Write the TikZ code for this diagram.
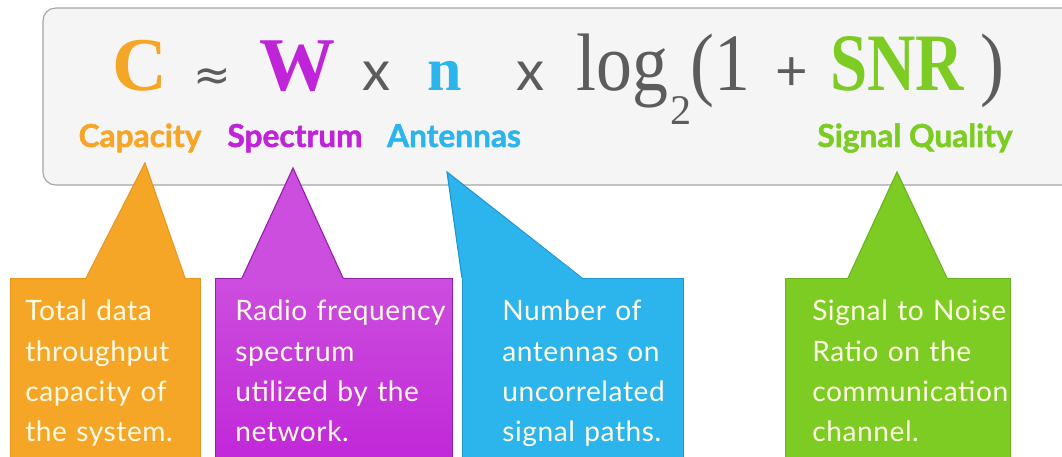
\documentclass[tikz,border=0pt]{standalone}
\usepackage{fontspec}
\setmainfont{Lato}
\newfontfamily\eqfont{Liberation Serif}
\newfontfamily\symfont{DejaVu Sans}
\newfontfamily\tagfont[FakeBold=1.6]{Lato Bold}
\newfontfamily\notefont[LetterSpace=2.0]{Lato}
\usetikzlibrary{positioning,calc}
\definecolor{capOrange}{RGB}{245,166,38}
\definecolor{capEdge}{RGB}{232,150,30}
\definecolor{specPurple}{RGB}{192,36,216}
\definecolor{specTop}{RGB}{204,78,222}
\definecolor{specEdge}{RGB}{150,30,170}
\definecolor{antBlue}{RGB}{44,180,236}
\definecolor{antEdge}{RGB}{30,150,210}
\definecolor{sigGreen}{RGB}{124,204,36}
\definecolor{sigEdge}{RGB}{105,180,30}
\definecolor{eqGray}{RGB}{92,92,92}
\definecolor{panelFill}{RGB}{245,245,245}
\definecolor{panelEdge}{RGB}{165,165,165}
\definecolor{noteText}{RGB}{255,250,228}
\newcommand{\narrow}[2]{\scalebox{#1}[1]{#2}}

\begin{document}
\begin{tikzpicture}[x=0.025cm, y=-0.025cm,
    eqbig/.style={font=\eqfont\fontsize{54}{54}\selectfont, text=eqGray, inner sep=0pt, anchor=base},
    eqlog/.style={font=\eqfont\fontsize{58}{58}\selectfont, text=eqGray, inner sep=0pt, anchor=base west},
    eqsub/.style={font=\eqfont\fontsize{30}{30}\selectfont, text=eqGray, inner sep=0pt, anchor=base west},
    eqop/.style={font=\fontsize{40}{40}\selectfont, text=eqGray, inner sep=0pt, anchor=base},
    tag/.style={font=\tagfont\fontsize{22.5}{24}\selectfont, inner sep=0pt, anchor=base},
    notebox/.style={anchor=north west, minimum height=4.925cm, inner sep=0pt, line width=0.8pt},
    notetext/.style={anchor=north west, align=left, inner sep=0pt, text=noteText,
      font=\notefont\fontsize{20}{28.45}\selectfont, text width=7cm}]
  \clip (0,0) rectangle (1062,457);
  % Formula panel
  \draw[fill=panelFill, draw=panelEdge, line width=0.8pt, rounded corners=9] (43,8) rectangle (1100,185);

  % Formula
  \node[eqbig, text=capOrange] (C) at (140,91) {\bfseries C};
  \node[eqop, font=\symfont\fontsize{32}{32}\selectfont] (approx) at (212,91) {≈};
  \node[eqbig, text=specPurple] (W) at (297,91) {\bfseries W};
  \node[eqop] (times1) at (376,91) {x};
  \node[eqbig, text=antBlue, font=\eqfont\fontsize{44}{44}\selectfont] (n) at (445,91) {\bfseries n};
  \node[eqop] (times2) at (530,91) {x};
  \node[eqlog] (log) at (576,91) {\narrow{0.88}{log}};
  \node[eqsub] (two) at (670,125) {2};
  \node[eqlog] (open) at (690,91) {\narrow{0.88}{(1}};
  \node[eqop] (plus) at (792,91) {+};
  \node[eqlog, text=sigGreen] (SNR) at (830,91) {\narrow{0.82}{\bfseries SNR}};
  \node[eqlog] (close) at (980,91) {\narrow{0.88}{)}};

  % Labels
  \node[tag, text=capOrange] (capLabel) at (140,147) {Capacity};
  \node[tag, text=specPurple] (specLabel) at (295,147) {Spectrum};
  \node[tag, text=antBlue] (antLabel) at (454,147) {Antennas};
  \node[tag, text=sigGreen] (sigLabel) at (915,147) {Signal Quality};

  % Pointer tips
  \coordinate (capTip) at (145,163);
  \coordinate (specTip) at (293,168);
  \coordinate (antTip) at (447,172);
  \coordinate (sigTip) at (897,172);

  % Callout boxes
  \node[notebox, fill=capOrange, draw=capEdge, minimum width=4.75cm] (capBox) at (10,278) {};
  \node[notebox, top color=specTop, bottom color=specPurple, draw=specEdge, minimum width=5.925cm] (specBox) at (215,278) {};
  \node[notebox, fill=antBlue, draw=antEdge, minimum width=5.525cm] (antBox) at (462,278) {};
  \node[notebox, fill=sigGreen, draw=sigEdge, minimum width=5.625cm] (sigBox) at (785,278) {};

  % Pointers
  \fill[capOrange] ($(capBox.north west)+(76,0.8)$) -- (capTip) -- ($(capBox.north west)+(175,0.8)$) -- cycle;
  \draw[capEdge, line width=0.8pt] ($(capBox.north west)+(76,0)$) -- (capTip) -- ($(capBox.north west)+(175,0)$);
  \fill[specTop] ($(specBox.north west)+(27,0.8)$) -- (specTip) -- ($(specBox.north west)+(128,0.8)$) -- cycle;
  \draw[specEdge, line width=0.8pt] ($(specBox.north west)+(27,0)$) -- (specTip) -- ($(specBox.north west)+(128,0)$);
  \fill[antBlue] ($(antBox.north west)+(0,0.8)$) -- (antTip) -- ($(antBox.north west)+(120,0.8)$) -- cycle;
  \draw[antEdge, line width=0.8pt] (antBox.north west) -- (antTip) -- ($(antBox.north west)+(120,0)$);
  \fill[sigGreen] ($(sigBox.north west)+(63,0.8)$) -- (sigTip) -- ($(sigBox.north west)+(162,0.8)$) -- cycle;
  \draw[sigEdge, line width=0.8pt] ($(sigBox.north west)+(63,0)$) -- (sigTip) -- ($(sigBox.north west)+(162,0)$);

  % Callout texts
  \node[notetext] (capText) at ($(capBox.north west)+(15,22)$) {Total data\\throughput\\capacity of\\the system.};
  \node[notetext] (specText) at ($(specBox.north west)+(20,22)$) {Radio frequency\\spectrum\\utilized by the\\network.};
  \node[notetext] (antText) at ($(antBox.north west)+(40,22)$) {Number of\\antennas on\\uncorrelated\\signal paths.};
  \node[notetext] (sigText) at ($(sigBox.north west)+(27,22)$) {Signal to Noise\\Ratio on the\\communication\\channel.};
\end{tikzpicture}
\end{document}
